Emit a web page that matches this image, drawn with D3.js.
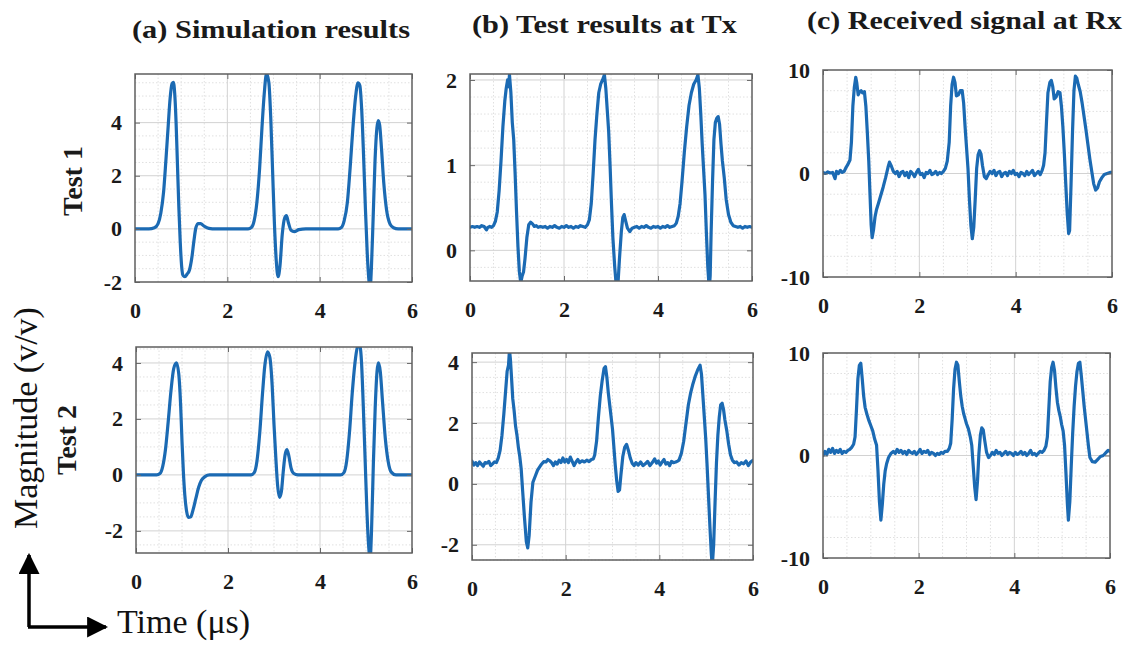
<!DOCTYPE html>
<html>
<head>
<meta charset="utf-8">
<script src="https://cdn.jsdelivr.net/npm/d3@7"></script>
<style>
  html, body { margin: 0; padding: 0; background: #fff; }
  svg { display: block; }
  .tick text { font-family: 'Liberation Serif', 'Times New Roman', Times, serif !important; font-weight: bold; }
</style>
</head>
<body>
<svg id="chart" width="1133" height="651"></svg>
<script>
// ---- data: time in µs, magnitude in v/v ----
const timeTicks = [0, 2, 4, 6];

const panelTitles = ["(a) Simulation results", "(b) Test results at Tx", "(c) Received signal at Rx"];
const rowLabels = ["Test 1", "Test 2"];

const ticksSim1 = [-2, 0, 2, 4];
const ticksTx1 = [0, 1, 2];
const ticksRx1 = [-10, 0, 10];
const ticksSim2 = [-2, 0, 2, 4];
const ticksTx2 = [-2, 0, 2, 4];
const ticksRx2 = [-10, 0, 10];

// simulated waveform, test 1
const simTest1 = [
  [0,0],[0.3,0],[0.42,0.04],[0.5,0.2],[0.56,0.6],[0.62,1.4],[0.67,2.6],[0.72,3.9],[0.76,4.9],[0.8,5.45],
  [0.83,5.52],[0.86,5.1],[0.89,4.0],[0.92,2.4],[0.95,0.8],[0.98,-0.5],[1.01,-1.4],[1.04,-1.75],[1.08,-1.8],
  [1.13,-1.7],[1.18,-1.55],[1.23,-1.1],[1.28,-0.4],[1.32,0.05],[1.37,0.2],[1.42,0.2],[1.5,0.1],[1.6,0.02],
  [1.75,0],[2.45,0],[2.52,0.05],[2.58,0.3],[2.64,1.0],[2.7,2.3],[2.75,3.8],[2.8,5.1],[2.85,5.85],[2.9,5.5],
  [2.94,4.2],[2.98,2.2],[3.02,0.2],[3.06,-1.2],[3.1,-1.8],[3.14,-1.4],[3.19,-0.2],[3.24,0.4],[3.28,0.5],
  [3.32,0.25],[3.38,-0.05],[3.45,-0.1],[3.55,-0.03],[3.7,0],[4.4,0],[4.47,0.05],[4.53,0.3],[4.6,1.0],
  [4.66,2.3],[4.72,3.8],[4.78,5.0],[4.83,5.5],[4.87,5.4],[4.91,4.5],[4.95,2.8],[4.99,0.8],[5.03,-0.9],
  [5.07,-2.0],[5.09,-2.3],[5.12,-1.5],[5.16,0.5],[5.2,2.6],[5.24,3.8],[5.27,4.08],[5.3,3.9],[5.34,3.0],
  [5.39,1.7],[5.45,0.7],[5.52,0.2],[5.6,0.04],[5.7,0],[6,0]
];

// measured waveform at the transmitter, test 1
const txTest1 = [
  [0,0.27],[0.05,0.28],[0.1,0.27],[0.15,0.28],[0.2,0.27],[0.25,0.29],[0.3,0.28],[0.35,0.24],[0.38,0.27],
  [0.42,0.28],[0.46,0.27],[0.5,0.29],[0.54,0.34],[0.58,0.45],[0.62,0.7],[0.66,1.05],[0.7,1.45],[0.74,1.75],
  [0.77,1.9],[0.8,2.0],[0.82,1.92],[0.84,2.06],[0.87,1.85],[0.9,1.5],[0.93,1.3],[0.96,0.9],[0.99,0.45],
  [1.02,0.05],[1.05,-0.25],[1.08,-0.38],[1.11,-0.3],[1.14,-0.25],[1.17,-0.1],[1.21,0.15],[1.25,0.3],
  [1.29,0.33],[1.33,0.31],[1.37,0.28],[1.41,0.29],[1.45,0.27],[1.5,0.28],[1.55,0.27],[1.6,0.28],[1.65,0.26],
  [1.7,0.28],[1.75,0.27],[1.8,0.29],[1.85,0.27],[1.9,0.26],[1.95,0.28],[2.0,0.27],[2.05,0.29],[2.1,0.27],
  [2.15,0.28],[2.2,0.26],[2.25,0.28],[2.3,0.27],[2.35,0.29],[2.4,0.28],[2.45,0.27],[2.5,0.3],[2.54,0.36],
  [2.58,0.55],[2.62,0.9],[2.66,1.3],[2.7,1.6],[2.74,1.85],[2.78,1.95],[2.82,2.0],[2.86,2.06],[2.89,1.9],
  [2.92,1.65],[2.95,1.4],[2.98,1.0],[3.01,0.55],[3.04,0.15],[3.08,-0.2],[3.11,-0.4],[3.15,-0.38],[3.18,-0.1],
  [3.22,0.22],[3.25,0.38],[3.28,0.42],[3.31,0.35],[3.35,0.26],[3.4,0.22],[3.45,0.26],[3.5,0.27],[3.55,0.28],
  [3.6,0.26],[3.65,0.28],[3.7,0.27],[3.75,0.29],[3.8,0.27],[3.85,0.26],[3.9,0.28],[3.95,0.27],[4.0,0.28],
  [4.05,0.26],[4.1,0.28],[4.15,0.27],[4.2,0.29],[4.25,0.27],[4.3,0.28],[4.35,0.29],[4.39,0.32],[4.43,0.4],
  [4.47,0.55],[4.51,0.8],[4.56,1.15],[4.61,1.45],[4.66,1.7],[4.71,1.85],[4.76,1.95],[4.81,2.0],[4.85,2.06],
  [4.88,1.9],[4.91,1.6],[4.94,1.25],[4.97,0.95],[5.0,0.65],[5.03,0.2],[5.06,-0.2],[5.09,-0.45],[5.11,-0.3],
  [5.13,0.2],[5.16,0.8],[5.19,1.3],[5.22,1.5],[5.25,1.55],[5.28,1.57],[5.31,1.48],[5.34,1.25],[5.37,1.05],
  [5.41,0.85],[5.45,0.6],[5.5,0.42],[5.55,0.33],[5.6,0.29],[5.65,0.28],[5.7,0.27],[5.75,0.28],[5.8,0.26],
  [5.85,0.28],[5.9,0.27],[5.95,0.28],[6,0.27]
];

// received waveform, test 1
const rxTest1 = [
  [0,0.1],[0.05,0.0],[0.1,0.15],[0.15,0.05],[0.2,0.1],[0.25,-0.5],[0.28,0.2],[0.32,0.0],[0.36,0.3],[0.4,0.1],
  [0.44,0.2],[0.48,0.6],[0.52,0.9],[0.56,1.3],[0.59,3.0],[0.62,6.5],[0.65,8.3],[0.68,9.3],[0.7,8.8],[0.73,7.6],
  [0.76,7.9],[0.79,8.0],[0.82,7.8],[0.86,7.9],[0.89,6.5],[0.92,4.0],[0.95,1.2],[0.98,-2.5],[1.0,-5.0],
  [1.02,-6.2],[1.05,-5.4],[1.08,-4.2],[1.11,-3.5],[1.15,-2.9],[1.2,-2.1],[1.25,-1.3],[1.3,-0.4],[1.35,0.6],
  [1.38,1.1],[1.42,0.7],[1.46,0.2],[1.5,0.0],[1.54,0.2],[1.58,-0.3],[1.62,0.1],[1.66,0.2],[1.7,-0.2],
  [1.74,0.1],[1.78,-0.4],[1.82,0.2],[1.86,0.0],[1.9,-0.3],[1.94,0.1],[1.98,0.4],[2.02,-0.1],[2.06,0.0],
  [2.1,-0.4],[2.14,0.1],[2.18,0.0],[2.22,0.3],[2.26,-0.1],[2.3,0.0],[2.34,0.2],[2.38,-0.1],[2.42,0.1],
  [2.46,0.0],[2.5,0.2],[2.54,0.5],[2.58,1.2],[2.62,3.0],[2.65,6.5],[2.68,8.6],[2.71,9.3],[2.74,8.8],
  [2.77,7.5],[2.81,7.6],[2.85,8.0],[2.89,8.0],[2.92,6.8],[2.95,4.5],[2.98,2.5],[3.01,0.5],[3.04,-2.5],
  [3.07,-5.0],[3.1,-6.3],[3.13,-5.2],[3.16,-2.5],[3.19,0.5],[3.22,1.8],[3.25,2.2],[3.28,1.9],[3.31,0.8],
  [3.35,-0.3],[3.39,-0.5],[3.43,-0.1],[3.47,0.2],[3.51,0.0],[3.55,0.3],[3.59,-0.2],[3.63,0.1],[3.67,0.2],
  [3.71,-0.3],[3.75,0.0],[3.79,0.1],[3.83,-0.2],[3.87,0.2],[3.91,0.0],[3.95,0.3],[3.99,-0.1],[4.03,0.0],
  [4.07,-0.3],[4.11,0.1],[4.15,0.0],[4.19,-0.2],[4.23,0.2],[4.27,-0.1],[4.31,0.1],[4.35,0.3],[4.39,-0.2],
  [4.43,0.0],[4.47,0.2],[4.51,-0.1],[4.55,0.3],[4.58,0.8],[4.61,2.0],[4.64,5.0],[4.67,7.8],[4.71,8.8],
  [4.74,9.0],[4.77,8.4],[4.8,7.2],[4.84,7.4],[4.88,7.9],[4.92,7.8],[4.95,6.5],[4.98,4.5],[5.01,2.0],
  [5.04,-1.0],[5.07,-3.8],[5.1,-5.8],[5.12,-5.5],[5.15,-1.0],[5.18,4.0],[5.21,8.0],[5.24,9.4],[5.27,9.2],
  [5.3,8.6],[5.34,7.9],[5.38,6.8],[5.42,5.5],[5.46,4.2],[5.5,2.8],[5.54,1.4],[5.58,0.2],[5.62,-1.0],
  [5.66,-1.6],[5.7,-1.4],[5.74,-0.8],[5.79,-0.4],[5.84,-0.1],[5.9,0.0],[5.96,0.1],[6,0.1]
];

// simulated waveform, test 2
const simTest2 = [
  [0,0],[0.45,0],[0.52,0.05],[0.58,0.3],[0.64,0.9],[0.7,1.9],[0.76,3.0],[0.82,3.8],[0.88,4.0],[0.93,3.6],
  [0.97,2.5],[1.0,1.2],[1.03,0.1],[1.06,-0.7],[1.1,-1.3],[1.14,-1.52],[1.19,-1.5],[1.24,-1.25],[1.3,-0.85],
  [1.36,-0.45],[1.42,-0.2],[1.5,-0.06],[1.6,0],[2.5,0],[2.57,0.08],[2.63,0.5],[2.69,1.5],[2.75,2.9],
  [2.8,3.9],[2.86,4.4],[2.91,4.2],[2.96,3.2],[3.0,1.8],[3.04,0.6],[3.08,-0.4],[3.12,-0.8],[3.16,-0.6],
  [3.2,0.1],[3.24,0.7],[3.28,0.9],[3.32,0.7],[3.37,0.25],[3.43,0.05],[3.52,0],[4.45,0],[4.52,0.08],
  [4.58,0.5],[4.64,1.5],[4.7,2.9],[4.76,4.0],[4.82,4.6],[4.86,4.65],[4.9,4.1],[4.94,2.5],[4.98,0.6],
  [5.02,-1.3],[5.06,-2.6],[5.09,-3.0],[5.12,-2.0],[5.16,0.4],[5.2,2.4],[5.24,3.7],[5.27,4.0],[5.31,3.7],
  [5.36,2.6],[5.42,1.3],[5.48,0.5],[5.55,0.1],[5.65,0],[6,0]
];

// measured waveform at the transmitter, test 2
const txTest2 = [
  [0,0.75],[0.04,0.62],[0.08,0.7],[0.12,0.6],[0.16,0.72],[0.2,0.65],[0.24,0.58],[0.28,0.7],[0.32,0.68],
  [0.36,0.74],[0.4,0.6],[0.44,0.66],[0.48,0.72],[0.52,0.7],[0.56,0.85],[0.6,1.1],[0.64,1.6],[0.68,2.3],
  [0.72,3.1],[0.75,3.7],[0.78,3.9],[0.8,4.4],[0.82,4.1],[0.84,3.6],[0.87,2.8],[0.9,2.4],[0.93,1.9],
  [0.96,1.6],[0.99,1.2],[1.02,0.9],[1.05,0.5],[1.08,-0.2],[1.12,-1.1],[1.16,-1.9],[1.19,-2.1],[1.22,-1.7],
  [1.26,-0.6],[1.3,0.05],[1.35,0.25],[1.4,0.45],[1.47,0.62],[1.53,0.73],[1.58,0.72],[1.62,0.8],[1.66,0.76],
  [1.7,0.7],[1.74,0.6],[1.78,0.72],[1.82,0.65],[1.86,0.78],[1.9,0.7],[1.94,0.85],[1.98,0.72],[2.02,0.8],
  [2.06,0.7],[2.1,0.88],[2.14,0.74],[2.18,0.6],[2.22,0.72],[2.26,0.8],[2.3,0.7],[2.35,0.76],[2.4,0.72],
  [2.45,0.78],[2.5,0.73],[2.55,0.8],[2.59,0.82],[2.62,0.95],[2.66,1.4],[2.7,2.2],[2.74,2.9],[2.78,3.4],
  [2.82,3.8],[2.85,3.85],[2.88,3.5],[2.91,3.0],[2.94,2.6],[2.97,2.2],[3.0,1.8],[3.03,1.2],[3.06,0.6],
  [3.09,0.1],[3.12,-0.25],[3.15,-0.2],[3.18,0.3],[3.22,0.9],[3.26,1.2],[3.3,1.3],[3.34,1.1],[3.38,0.85],
  [3.42,0.68],[3.46,0.6],[3.5,0.7],[3.55,0.62],[3.6,0.72],[3.65,0.6],[3.7,0.66],[3.75,0.74],[3.8,0.6],
  [3.85,0.7],[3.9,0.82],[3.94,0.68],[3.98,0.75],[4.02,0.62],[4.06,0.72],[4.1,0.8],[4.14,0.65],[4.18,0.7],
  [4.22,0.6],[4.26,0.74],[4.3,0.7],[4.35,0.72],[4.39,0.75],[4.42,0.78],[4.47,1.0],[4.52,1.4],[4.57,2.0],
  [4.62,2.6],[4.67,3.0],[4.72,3.3],[4.77,3.55],[4.82,3.75],[4.87,3.9],[4.9,3.6],[4.93,2.9],[4.96,2.2],
  [4.99,1.5],[5.02,0.6],[5.05,-0.4],[5.08,-1.4],[5.11,-2.3],[5.13,-2.7],[5.16,-2.0],[5.19,-0.6],[5.22,0.7],
  [5.25,1.6],[5.28,2.2],[5.31,2.6],[5.34,2.65],[5.37,2.45],[5.4,2.1],[5.44,1.75],[5.48,1.3],[5.52,0.95],
  [5.56,0.78],[5.6,0.7],[5.65,0.72],[5.7,0.62],[5.75,0.7],[5.8,0.66],[5.85,0.75],[5.9,0.6],[5.95,0.72],
  [6,0.78]
];

// received waveform, test 2
const rxTest2 = [
  [0,0.0],[0.04,0.4],[0.08,0.1],[0.12,0.6],[0.16,0.3],[0.2,0.7],[0.24,0.2],[0.28,0.5],[0.32,0.3],[0.36,0.6],
  [0.4,0.2],[0.44,0.4],[0.48,0.3],[0.52,0.5],[0.56,0.6],[0.6,0.8],[0.64,1.1],[0.67,1.8],[0.7,4.5],[0.73,7.5],
  [0.76,8.8],[0.79,9.0],[0.82,7.5],[0.85,5.8],[0.88,4.7],[0.92,4.0],[0.96,3.4],[1.0,2.9],[1.04,2.4],
  [1.08,1.6],[1.12,1.0],[1.15,-1.5],[1.18,-4.5],[1.21,-6.3],[1.24,-4.8],[1.27,-2.8],[1.3,-1.5],[1.33,-0.8],
  [1.37,-0.2],[1.42,0.2],[1.47,0.4],[1.51,0.2],[1.55,0.6],[1.59,0.3],[1.63,0.5],[1.67,0.2],[1.71,0.4],
  [1.75,0.1],[1.79,0.5],[1.83,0.3],[1.87,0.2],[1.91,0.4],[1.95,0.1],[1.99,0.3],[2.03,0.6],[2.07,0.2],
  [2.11,0.4],[2.15,0.3],[2.19,0.5],[2.23,0.1],[2.27,0.3],[2.31,0.2],[2.35,0.0],[2.39,0.2],[2.43,0.1],
  [2.47,0.3],[2.51,0.2],[2.55,0.4],[2.6,0.4],[2.64,0.7],[2.67,1.2],[2.7,3.5],[2.73,6.5],[2.76,8.4],
  [2.79,9.1],[2.82,8.8],[2.85,7.2],[2.88,5.8],[2.91,4.8],[2.94,4.1],[2.97,3.6],[3.0,3.1],[3.04,2.6],
  [3.08,1.8],[3.11,1.0],[3.14,-1.0],[3.17,-3.0],[3.2,-4.3],[3.23,-2.5],[3.26,0.2],[3.29,2.0],[3.32,2.7],
  [3.35,2.5],[3.38,1.5],[3.42,0.3],[3.46,-0.2],[3.5,0.0],[3.54,0.3],[3.58,0.1],[3.62,0.5],[3.66,0.2],
  [3.7,0.3],[3.74,0.0],[3.78,0.2],[3.82,0.4],[3.86,0.1],[3.9,0.3],[3.94,0.2],[3.98,0.0],[4.02,0.3],
  [4.06,0.1],[4.1,0.2],[4.14,0.4],[4.18,0.1],[4.22,0.3],[4.26,0.0],[4.3,0.2],[4.34,0.5],[4.38,0.1],
  [4.42,0.2],[4.46,0.0],[4.5,0.2],[4.54,0.4],[4.58,0.3],[4.62,0.5],[4.66,0.9],[4.69,1.8],[4.72,4.5],
  [4.75,7.2],[4.78,8.6],[4.81,9.1],[4.84,8.3],[4.87,6.6],[4.9,5.2],[4.93,4.4],[4.96,3.8],[4.99,3.0],
  [5.02,2.4],[5.05,1.0],[5.08,-1.8],[5.11,-4.8],[5.13,-6.3],[5.16,-4.5],[5.19,-1.0],[5.22,2.2],[5.25,4.8],
  [5.28,6.8],[5.31,8.2],[5.34,9.0],[5.37,9.1],[5.4,7.8],[5.43,6.3],[5.46,4.8],[5.49,3.5],[5.52,2.2],
  [5.55,0.9],[5.58,-0.2],[5.63,-0.6],[5.69,-0.65],[5.74,-0.4],[5.8,-0.1],[5.86,0.0],[5.92,0.3],[5.96,0.5],
  [6,0.4]
];

// ---- layout of the six panels ----
const panels = [
  { data: simTest1, yTicks: ticksSim1, yDomain: [-2, 5.83],   yMinor: 0.5, box: [135, 412, 74, 282],  smooth: true },
  { data: txTest1,  yTicks: ticksTx1,  yDomain: [-0.36, 2.07], yMinor: 0.2, box: [470, 752, 74, 281],  smooth: false },
  { data: rxTest1,  yTicks: ticksRx1,  yDomain: [-10, 10],     yMinor: 2,   box: [823, 1112, 70, 277], smooth: false },
  { data: simTest2, yTicks: ticksSim2, yDomain: [-2.79, 4.57], yMinor: 0.5, box: [136, 412, 347, 553], smooth: true },
  { data: txTest2,  yTicks: ticksTx2,  yDomain: [-2.5, 4.3],   yMinor: 0.5, box: [472, 753, 353, 560], smooth: false },
  { data: rxTest2,  yTicks: ticksRx2,  yDomain: [-10, 10],     yMinor: 2,   box: [823, 1110, 353, 558], smooth: false }
];

const serif = "'Liberation Serif', 'Times New Roman', Times, serif";
const lineColor = "#1b6ab3";
const svg = d3.select("#chart");

function minorValues(domain, step) {
  const out = [];
  const start = Math.ceil(domain[0] / step - 1e-9) * step;
  for (let v = start; v <= domain[1] + 1e-9; v += step) out.push(+v.toFixed(6));
  return out;
}

// plain hyphen for negative tick labels
const tickText = d => String(d);

panels.forEach((p, i) => {
  const [x0, x1, y0, y1] = p.box;
  const x = d3.scaleLinear().domain([0, 6]).range([x0, x1]);
  const y = d3.scaleLinear().domain(p.yDomain).range([y1, y0]);
  const g = svg.append("g");

  // minor grid (dotted)
  const xMinor = minorValues([0, 6], 0.5).filter(v => !timeTicks.includes(v));
  const yMinor = minorValues(p.yDomain, p.yMinor).filter(v => !p.yTicks.includes(v));
  g.append("g").selectAll("line").data(xMinor).join("line")
    .attr("x1", d => x(d)).attr("x2", d => x(d)).attr("y1", y0).attr("y2", y1)
    .attr("stroke", "#e0e0e0").attr("stroke-width", 1).attr("stroke-dasharray", "1.5,2");
  g.append("g").selectAll("line").data(yMinor).join("line")
    .attr("x1", x0).attr("x2", x1).attr("y1", d => y(d)).attr("y2", d => y(d))
    .attr("stroke", "#e0e0e0").attr("stroke-width", 1).attr("stroke-dasharray", "1.5,2");

  // major grid
  g.append("g").selectAll("line").data(timeTicks.slice(1, -1)).join("line")
    .attr("x1", d => x(d)).attr("x2", d => x(d)).attr("y1", y0).attr("y2", y1)
    .attr("stroke", "#d2d2d2").attr("stroke-width", 1);
  g.append("g").selectAll("line").data(p.yTicks.filter(v => v > p.yDomain[0] && v < p.yDomain[1])).join("line")
    .attr("x1", x0).attr("x2", x1).attr("y1", d => y(d)).attr("y2", d => y(d))
    .attr("stroke", "#d2d2d2").attr("stroke-width", 1);

  // waveform, clipped to the axes box
  const clipId = "clip" + i;
  svg.append("clipPath").attr("id", clipId).append("rect")
    .attr("x", x0).attr("y", y0).attr("width", x1 - x0).attr("height", y1 - y0);
  const line = d3.line().x(d => x(d[0])).y(d => y(d[1]))
    .curve(p.smooth ? d3.curveMonotoneX : d3.curveLinear);
  g.append("path").datum(p.data)
    .attr("clip-path", `url(#${clipId})`)
    .attr("fill", "none").attr("stroke", lineColor)
    .attr("stroke-width", 3.2).attr("stroke-linejoin", "round").attr("stroke-linecap", "round")
    .attr("d", line);

  // axes: inward ticks on all four sides, labels bottom and left
  const styleAxis = sel => {
    sel.attr("font-family", serif);
    sel.select(".domain").remove();
    sel.selectAll(".tick line").attr("stroke", "#6a6a6a").attr("stroke-width", 1);
    sel.selectAll("text")
      .style("font-family", serif).style("font-weight", "bold")
      .attr("font-size", 22).attr("fill", "#1a1a1a");
  };
  g.append("g").attr("transform", `translate(0,${y1})`)
    .call(d3.axisBottom(x).tickValues(timeTicks).tickSize(-5).tickPadding(20).tickFormat(tickText))
    .call(styleAxis);
  g.append("g").attr("transform", `translate(${x0},0)`)
    .call(d3.axisLeft(y).tickValues(p.yTicks).tickSize(-5).tickPadding(13).tickFormat(tickText))
    .call(styleAxis);
  g.append("g").attr("transform", `translate(0,${y0})`)
    .call(d3.axisTop(x).tickValues(timeTicks).tickSize(-5).tickFormat(""))
    .call(styleAxis);
  g.append("g").attr("transform", `translate(${x1},0)`)
    .call(d3.axisRight(y).tickValues(p.yTicks).tickSize(-5).tickFormat(""))
    .call(styleAxis);

  // axes box
  g.append("rect").attr("x", x0).attr("y", y0).attr("width", x1 - x0).attr("height", y1 - y0)
    .attr("fill", "none").attr("stroke", "#5f5f5f").attr("stroke-width", 1.5);
});

// column titles
const titlePos = [[132, 38, 278], [472, 33, 265], [807, 29, 315]];
panelTitles.forEach((t, i) => {
  svg.append("text")
    .attr("x", titlePos[i][0]).attr("y", titlePos[i][1])
    .attr("textLength", titlePos[i][2]).attr("lengthAdjust", "spacingAndGlyphs")
    .attr("font-family", serif).attr("font-weight", "bold").attr("font-size", 25)
    .attr("fill", "#1a1a1a").text(t);
});

// row labels
const rowPos = [[82, 181], [76, 440]];
rowLabels.forEach((t, i) => {
  svg.append("text")
    .attr("transform", `translate(${rowPos[i][0]},${rowPos[i][1]}) rotate(-90)`)
    .attr("text-anchor", "middle")
    .attr("font-family", serif).attr("font-weight", "bold").attr("font-size", 28)
    .attr("fill", "#1a1a1a").text(t);
});

// overall axis titles
svg.append("text")
  .attr("transform", "translate(37,418) rotate(-90)")
  .attr("text-anchor", "middle")
  .attr("font-family", serif).attr("font-size", 34).attr("fill", "#111")
  .text("Magnitude (v/v)");
svg.append("text")
  .attr("x", 117).attr("y", 633)
  .attr("font-family", serif).attr("font-size", 34).attr("fill", "#111")
  .text("Time (μs)");

// direction arrows
svg.append("defs").append("marker")
  .attr("id", "arrowHead").attr("viewBox", "0 0 10 10")
  .attr("refX", 9).attr("refY", 5)
  .attr("markerWidth", 6).attr("markerHeight", 6).attr("markerUnits", "strokeWidth")
  .attr("orient", "auto")
  .append("path").attr("d", "M0,0 L10,5 L0,10 Z").attr("fill", "#000");
svg.append("path")
  .attr("d", "M29,627 L29,555")
  .attr("stroke", "#000").attr("stroke-width", 3.5).attr("fill", "none")
  .attr("marker-end", "url(#arrowHead)");
svg.append("path")
  .attr("d", "M28,627 L106,627")
  .attr("stroke", "#000").attr("stroke-width", 3.5).attr("fill", "none")
  .attr("marker-end", "url(#arrowHead)");
</script>
</body>
</html>
